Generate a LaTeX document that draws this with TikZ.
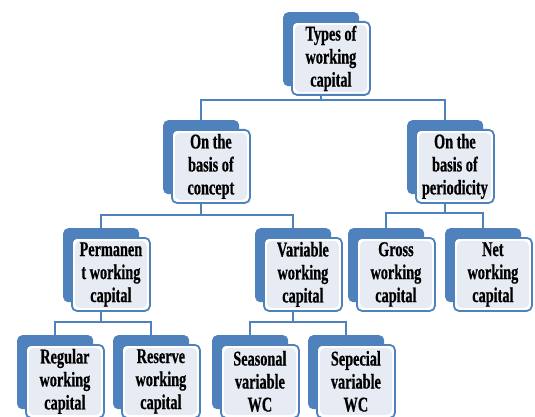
\documentclass[tikz,border=0pt]{standalone}
\usepackage{fontspec}
\setmainfont{Liberation Serif}[FakeStretch=0.68,FakeBold=0.6]
\usetikzlibrary{positioning}
\definecolor{wcblue}{RGB}{79,129,189}
\definecolor{wctint}{RGB}{231,235,244}

\begin{document}
\begin{tikzpicture}[
    x=1pt, y=-1pt,
    backbox/.style={fill=wcblue, rounded corners=5pt, minimum width=76pt, minimum height=74pt, inner sep=0pt, anchor=north west},
    wcbox/.style={draw=wcblue, line width=1.8pt, fill=white, rounded corners=5pt,
        minimum width=78pt, minimum height=73pt, inner sep=0pt, align=center,
        font=\fontsize{21}{23}\selectfont\bfseries,
        path picture={\fill[wctint] ([xshift=3pt,yshift=3pt]path picture bounding box.south west) rectangle ([xshift=-3pt,yshift=-3pt]path picture bounding box.north east);}},
    wcline/.style={draw=wcblue, line width=2pt}
]
\clip (0,0) rectangle (535,417);

% back boxes
\node[backbox] (types) at (283,12) {};
\node[backbox] (concept) at (163,120) {};
\node[backbox] (period) at (407,120) {};
\node[backbox] (perm) at (63,228) {};
\node[backbox] (var) at (255,228) {};
\node[backbox] (gross) at (348,228) {};
\node[backbox] (net) at (445,228) {};
\node[backbox] (regular) at (17,335) {};
\node[backbox] (reserve) at (113,335) {};
\node[backbox] (seasonal) at (212,335) {};
\node[backbox] (special) at (308,335) {};

% connectors
\draw[wcline] (types.south) -- ++(0,14) coordinate (bus1);
\draw[wcline] (bus1) -| (concept.north);
\draw[wcline] (bus1) -| (period.north);
\draw[wcline] (concept.south) -- ++(0,21) coordinate (bus2);
\draw[wcline] (bus2) -| (perm.north);
\draw[wcline] (bus2) -| (var.north);
\draw[wcline] (period.south) -- ++(0,19) coordinate (bus3);
\draw[wcline] (bus3) -| (gross.north);
\draw[wcline] (bus3) -| (net.north);
\draw[wcline] (perm.south) -- ++(0,20) coordinate (bus4);
\draw[wcline] (bus4) -| (regular.north);
\draw[wcline] (bus4) -| (reserve.north);
\draw[wcline] (var.south) -- ++(0,20) coordinate (bus5);
\draw[wcline] (bus5) -| (seasonal.north);
\draw[wcline] (bus5) -| (special.north);

% front boxes
\node[wcbox, below right=9pt and 8pt of types.north west] (typesF) {Types of\\working\\capital};
\node[wcbox, below right=9pt and 8pt of concept.north west] (conceptF) {On the\\basis of\\concept};
\node[wcbox, below right=9pt and 8pt of period.north west] (periodF) {On the\\basis of\\periodicity};
\node[wcbox, below right=9pt and 8pt of perm.north west] (permF) {Permanen\\t working\\capital};
\node[wcbox, below right=9pt and 8pt of var.north west] (varF) {Variable\\working\\capital};
\node[wcbox, below right=9pt and 8pt of gross.north west] (grossF) {Gross\\working\\capital};
\node[wcbox, below right=9pt and 8pt of net.north west] (netF) {Net\\working\\capital};
\node[wcbox, below right=9pt and 8pt of regular.north west] (regularF) {Regular\\working\\capital};
\node[wcbox, below right=9pt and 8pt of reserve.north west] (reserveF) {Reserve\\working\\capital};
\node[wcbox, below right=9pt and 8pt of seasonal.north west] (seasonalF) {Seasonal\\variable\\WC};
\node[wcbox, below right=9pt and 8pt of special.north west] (specialF) {Sepecial\\variable\\WC};
\end{tikzpicture}
\end{document}
